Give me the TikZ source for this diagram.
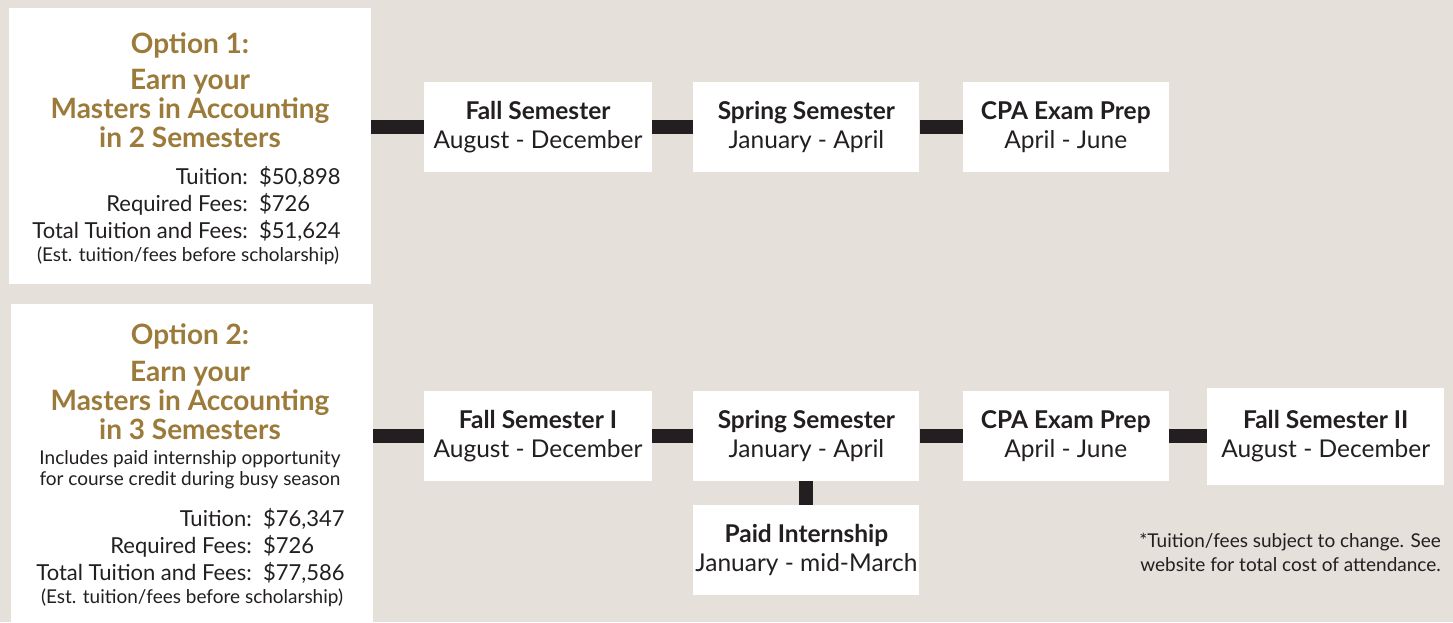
\documentclass[tikz,border=0pt]{standalone}
\usepackage{fontspec}
\setmainfont{Lato}
\usetikzlibrary{positioning}
\definecolor{bgtan}{HTML}{E5E0DA}
\definecolor{gold}{HTML}{9C7B3A}
\definecolor{ink}{HTML}{231F20}
\tikzset{
  card/.style={fill=white, inner sep=0pt, align=center, text=ink,
    minimum height=90pt, font=\fontsize{24.5}{29}\selectfont},
  panel/.style={fill=white, inner sep=0pt},
  title/.style={text=gold, inner sep=0pt, align=center, font=\bfseries\fontsize{28}{29}\selectfont},
  cost/.style={text=ink, inner sep=0pt, font=\fontsize{22}{27}\selectfont},
  small/.style={text=ink, inner sep=0pt, align=center, font=\fontsize{19}{21}\selectfont},
  bar/.style={draw=ink, line width=14pt},
}

\begin{document}
\begin{tikzpicture}[x=1pt,y=-1pt]
\fill[bgtan] (0,0) rectangle (1453,622);
\useasboundingbox (0,0) rectangle (1453,622);

% option panels
\node[panel, minimum width=362pt, minimum height=276pt] (opt1) at (190,146) {};
\node[panel, minimum width=362pt, minimum height=320pt] (opt2) at (192,464) {};

% option 1 text
\node[title] (head1) at (190,45) {Option 1:};
\node[title] (name1) at (190,108) {Earn your\\Masters in Accounting\\in 2 Semesters};
\node[cost, align=right, anchor=east] (lab1) at (248,204) {Tuition:\\Required Fees:\\Total Tuition and Fees:};
\node[cost, align=left, anchor=west] (val1) at (259,204) {\$50,898\\\$726\\\$51,624};
\node[small] (est1) at (188,256) {(Est. tuition/fees before scholarship)};

% option 2 text
\node[title] (head2) at (190,336) {Option 2:};
\node[title] (name2) at (190,400) {Earn your\\Masters in Accounting\\in 3 Semesters};
\node[small] (incl2) at (190,470) {Includes paid internship opportunity\\for course credit during busy season};
\node[cost, align=right, anchor=east] (lab2) at (252,546) {Tuition:\\Required Fees:\\Total Tuition and Fees:};
\node[cost, align=left, anchor=west] (val2) at (263,546) {\$76,347\\\$726\\\$77,586};
\node[small] (est2) at (192,598) {(Est. tuition/fees before scholarship)};

% row 1
\node[card, minimum width=228pt] (fall1) at (538,127) {\textbf{Fall Semester}\\August - December};
\node[card, minimum width=226pt, right=41pt of fall1] (spring1) {\textbf{Spring Semester}\\January - April};
\node[card, minimum width=206pt, right=43pt of spring1] (cpa1) {\textbf{CPA Exam Prep}\\April - June};

% row 2
\node[card, minimum width=228pt] (fall2) at (538,436) {\textbf{Fall Semester I}\\August - December};
\node[card, minimum width=226pt, right=41pt of fall2] (spring2) {\textbf{Spring Semester}\\January - April};
\node[card, minimum width=206pt, right=43pt of spring2] (cpa2) {\textbf{CPA Exam Prep}\\April - June};
\node[card, minimum width=237pt, minimum height=97pt, right=38pt of cpa2] (fall3) {\textbf{Fall Semester II}\\August - December};
\node[card, minimum width=226pt, below=24pt of spring2] (intern) {\textbf{Paid Internship}\\January - mid-March};

% connectors
\draw[bar] (opt1.east |- fall1.west) -- (fall1.west);
\draw[bar] (fall1) -- (spring1);
\draw[bar] (spring1) -- (cpa1);
\draw[bar] (opt2.east |- fall2.west) -- (fall2.west);
\draw[bar] (fall2) -- (spring2);
\draw[bar] (spring2) -- (cpa2);
\draw[bar] (cpa2) -- (fall3);
\draw[bar] (spring2) -- (intern);

\node[small, align=right, anchor=east, font=\fontsize{19}{24}\selectfont] (note) at (1441,552)
  {*Tuition/fees subject to change. See\\website for total cost of attendance.};
\end{tikzpicture}
\end{document}
